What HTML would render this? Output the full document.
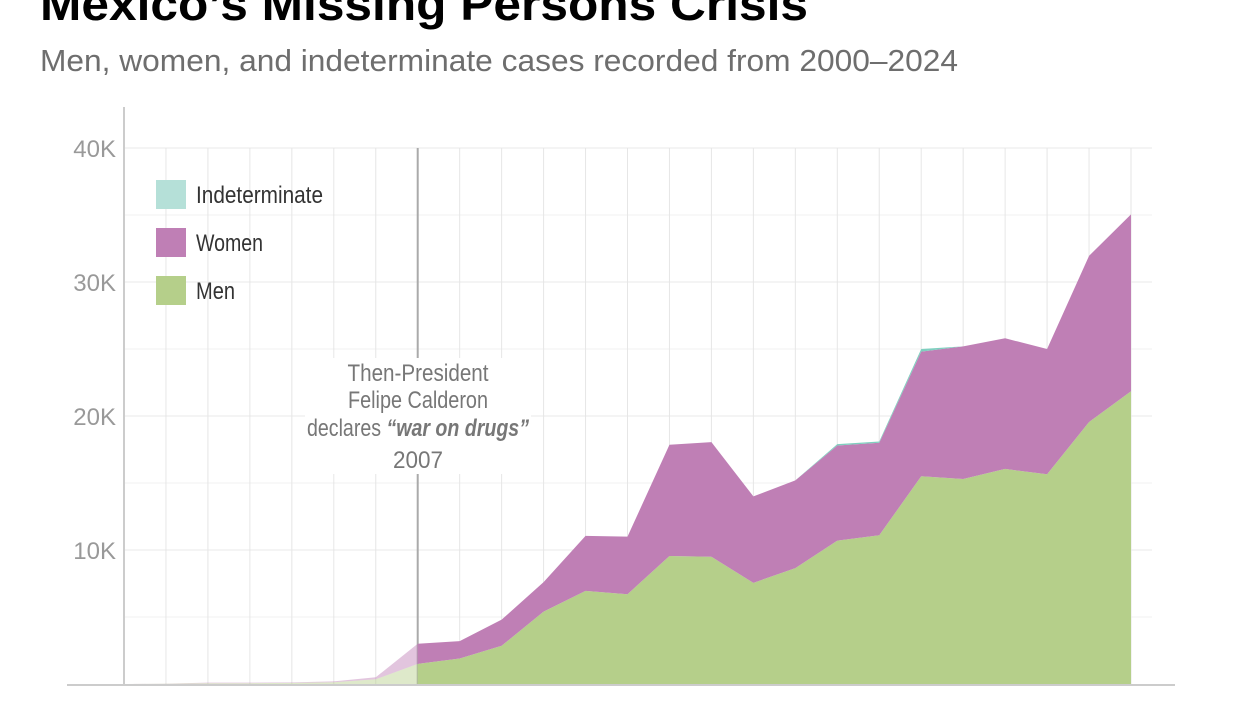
<!DOCTYPE html>
<html><head><meta charset="utf-8"><style>
body{margin:0;background:#fff;width:1245px;height:700px;overflow:hidden;font-family:"Liberation Sans",sans-serif}
</style></head><body>
<svg width="1245" height="700">
<text x="40" y="20" font-size="46" font-weight="bold" fill="#000" textLength="768" lengthAdjust="spacingAndGlyphs">Mexico’s Missing Persons Crisis</text>
<text x="40" y="71" font-size="31" fill="#6e6e6e" textLength="918" lengthAdjust="spacingAndGlyphs">Men, women, and indeterminate cases recorded from 2000–2024</text>
<g id="grid"></g>
<g id="areas"></g>
<g id="axes"></g>
<g font-size="24" fill="#333">
<rect x="156" y="180" width="30" height="29" fill="#b5e0d8"/>
<text x="196" y="203" textLength="127" lengthAdjust="spacingAndGlyphs">Indeterminate</text>
<rect x="156" y="228" width="30" height="29" fill="#bf7fb5"/>
<text x="196" y="251" textLength="67" lengthAdjust="spacingAndGlyphs">Women</text>
<rect x="156" y="276" width="30" height="29" fill="#b5cf8a"/>
<text x="196" y="299" textLength="39" lengthAdjust="spacingAndGlyphs">Men</text>
</g>
<g font-size="24" fill="#777" text-anchor="middle">
<rect x="305" y="358" width="226" height="116" fill="#fff"/>
<text x="418" y="381" textLength="141" lengthAdjust="spacingAndGlyphs">Then-President</text>
<text x="418" y="408" textLength="140" lengthAdjust="spacingAndGlyphs">Felipe Calderon</text>
<text x="418" y="436" textLength="222" lengthAdjust="spacingAndGlyphs">declares <tspan font-style="italic" font-weight="bold">“war on drugs”</tspan></text>
<text x="418" y="468" textLength="50" lengthAdjust="spacingAndGlyphs">2007</text>
</g>
</svg>
<script>
const years=[2000,2001,2002,2003,2004,2005,2006,2007,2008,2009,2010,2011,2012,2013,2014,2015,2016,2017,2018,2019,2020,2021,2022,2023,2024];
const men=[0,20,60,60,80,130,350,1500,1900,2850,5400,6950,6700,9550,9500,7550,8650,10700,11100,15500,15300,16050,15650,19550,21850];
const women=[0,10,40,40,40,70,150,1500,1300,1950,2200,4100,4300,8300,8550,6450,6550,7100,6900,9300,9900,9750,9350,12400,13200];
const indet=[0,0,0,0,0,0,0,0,0,0,0,0,0,0,0,0,0,100,100,200,0,0,0,0,0];
const yTicks=[10000,20000,30000,40000];
const yTickLabels=["10K","20K","30K","40K"];
const NS="http://www.w3.org/2000/svg";
const x=i=>124+(i)*(1131-124)/(years.length-1);
const y=v=>684-v*134/10000;
function el(t,a,p){const e=document.createElementNS(NS,t);for(const k in a)e.setAttribute(k,a[k]);p.appendChild(e);return e;}
const grid=document.getElementById('grid'),areas=document.getElementById('areas'),axes=document.getElementById('axes');
yTicks.forEach((v,i)=>{
 const l=el('line',{x1:124,x2:1152,y1:y(v),y2:y(v),stroke:'#e8e8e8','stroke-width':1},grid);
 
 
 const h=el('line',{x1:124,x2:1152,y1:y(v-5000),y2:y(v-5000),stroke:'#f0f0f0','stroke-width':1},grid);
 
 
 const t=el('text',{x:116,y:y(v)+9,'text-anchor':'end','font-size':24,fill:'#999'},axes);
 t.textContent=yTickLabels[i];
 
 
});
years.forEach((yr,i)=>{
 if(i===0)return;
 const l=el('line',{x1:x(i),x2:x(i),y1:y(40000),y2:684,stroke:yr===2007?'#aaa':'#e6e6e6','stroke-width':yr===2007?2:1},grid);
 
 
});
const c1=men.map(v=>v),c2=men.map((v,i)=>v+women[i]),c3=c2.map((v,i)=>v+indet[i]);
function area(lo,hi,from,to,fill,op,name){
 let d='';
 for(let i=from;i<=to;i++)d+=(i===from?'M':'L')+x(i)+','+y(hi[i]);
 for(let i=to;i>=from;i--)d+='L'+x(i)+','+y(lo?lo[i]:0);
 const p=el('path',{d:d+'Z',fill:fill,'fill-opacity':op},areas);
 
 
}
const split=years.indexOf(2007);
[[0,split,0.45,'-pre-2007'],[split,years.length-1,1,'']].forEach(([a,b,op,s])=>{
 area(null,c1,a,b,'#b5cf8a',op,'area-men'+s);
 area(c1,c2,a,b,'#bf7fb5',op,'area-women'+s);
 area(c2,c3,a,b,'#7fcfbf',op,'area-indeterminate'+s);
});
let ax=el('line',{x1:124,x2:124,y1:107,y2:684,stroke:'#ccc','stroke-width':2},axes);


let bx=el('line',{x1:67,x2:1175,y1:685,y2:685,stroke:'#ccc','stroke-width':2},axes);


</script>
</body></html>
